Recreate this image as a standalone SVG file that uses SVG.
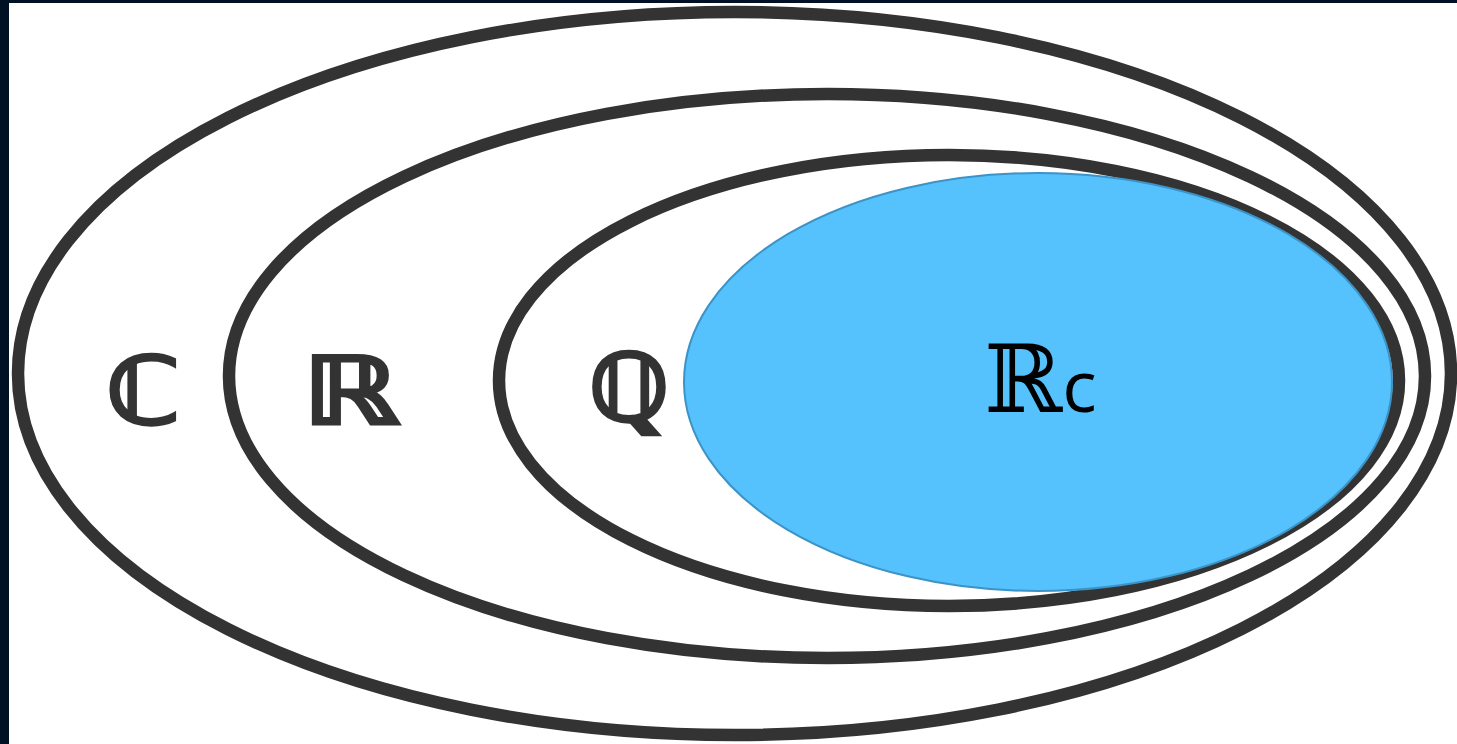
<svg xmlns="http://www.w3.org/2000/svg" width="1457" height="744" viewBox="0 0 1457 744">
<style>
.ring{fill:none;stroke:#333333;stroke-width:12.5}
.lbl{font-family:"DejaVu Sans",sans-serif;font-size:94px;font-weight:bold;fill:#333333;stroke:#333333;stroke-width:3}
.lbl2{font-family:"DejaVu Serif","DejaVu Sans",serif;font-size:94px;fill:#000000}
.sub{font-family:"Open Sans","DejaVu Sans",sans-serif;font-size:72px;fill:#000000}
</style>
<rect x="0" y="0" width="1457" height="744" fill="#ffffff"/>
<rect x="0" y="0" width="1457" height="3" fill="#001025"/>
<rect x="0" y="0" width="9" height="744" fill="#001025"/>
<g id="C">
<ellipse class="ring" cx="734.5" cy="373.5" rx="716.5" ry="361.5"/>
<text class="lbl" x="106" y="424" textLength="75" lengthAdjust="spacingAndGlyphs">ℂ</text>
</g>
<g id="R">
<ellipse class="ring" cx="827" cy="376" rx="598" ry="282"/>
<text class="lbl" x="302" y="424" textLength="98" lengthAdjust="spacingAndGlyphs">ℝ</text>
</g>
<g id="Q">
<ellipse class="ring" cx="949" cy="380.5" rx="450" ry="225.5"/>
<text class="lbl" x="589" y="421">ℚ</text>
</g>
<g id="Rc">
<ellipse cx="1038" cy="382" rx="354" ry="209" fill="#55c1fd" stroke="#3c93c6" stroke-width="2"/>
<text x="984" y="412"><tspan class="lbl2">ℝ</tspan><tspan class="sub">c</tspan></text>
</g>
<g id="connectors"/>
</svg>
